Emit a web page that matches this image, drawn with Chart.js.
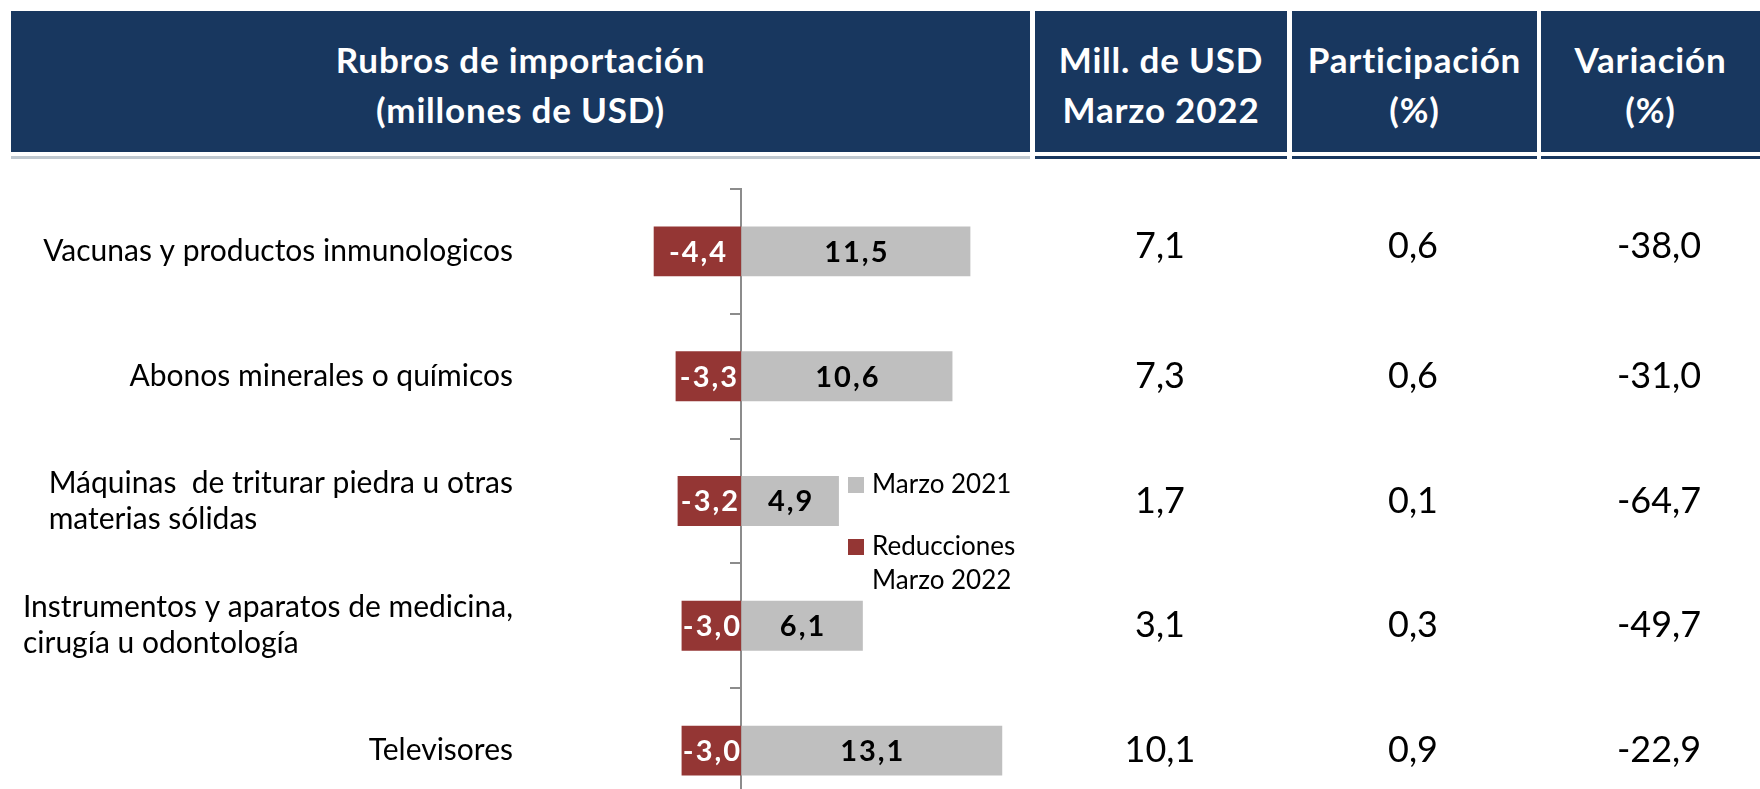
<!DOCTYPE html>
<html>
<head>
    <title>Rubros de importación</title>
    <script src="https://cdn.jsdelivr.net/npm/chart.js"></script>
    <style>
        html, body {
            margin: 0;
            padding: 0;
            width: 1760px;
            height: 789px;
            overflow: hidden;
            background: #fff;
            font-family: Lato, "Open Sans", sans-serif;
        }

        #chart-box {
            position: absolute;
            left: 0;
            top: 0;
            width: 1760px;
            height: 830px;
        }

        .head {
            position: absolute;
            top: 11px;
            height: 141px;
            background: #18375f;
            color: #fff;
            font-weight: bold;
            font-size: 35px;
            letter-spacing: 0.8px;
            line-height: 50px;
            text-align: center;
            box-sizing: border-box;
            padding-top: 23px;
        }

        .rule {
            position: absolute;
            top: 156px;
            height: 3px;
        }
    </style>
</head>
<body>
    <div class="head" style="left:11px;width:1019px;">Rubros de importación<br>(millones de USD)</div>
    <div class="head" style="left:1035px;width:252px;">Mill. de USD<br>Marzo 2022</div>
    <div class="head" style="left:1292px;width:245px;">Participación<br>(%)</div>
    <div class="head" style="left:1541px;width:219px;">Variación<br>(%)</div>

    <div class="rule" style="left:11px;width:1019px;background:#bfc8d0;"></div>
    <div class="rule" style="left:1035px;width:252px;background:#18375f;"></div>
    <div class="rule" style="left:1292px;width:245px;background:#18375f;"></div>
    <div class="rule" style="left:1541px;width:219px;background:#18375f;"></div>

    <div id="chart-box">
        <canvas id="rubrosChart" width="1760" height="830"></canvas>
    </div>

    <script>
        const categories = [
            ['Vacunas y productos inmunologicos'],
            ['Abonos minerales o químicos'],
            ['Máquinas  de triturar piedra u otras', 'materias sólidas'],
            ['Instrumentos y aparatos de medicina,', 'cirugía u odontología'],
            ['Televisores']
        ];
        const marzo2021 = [11.5, 10.6, 4.9, 6.1, 13.1];
        const reducciones = [-4.4, -3.3, -3.2, -3.0, -3.0];
        const millUsd2022 = [7.1, 7.3, 1.7, 3.1, 10.1];
        const participacion = [0.6, 0.6, 0.1, 0.3, 0.9];
        const variacion = [-38.0, -31.0, -64.7, -49.7, -22.9];

        const fmt = v => v.toFixed(1).replace('.', ',');

        // category names, right-aligned as a block, lines left-aligned
        const categoryLabels = {
            id: 'categoryLabels',
            afterDraw(chart) {
                const ctx = chart.ctx;
                const y = chart.scales.y;
                ctx.save();
                ctx.font = '30px Lato';
                ctx.fillStyle = '#000';
                ctx.textAlign = 'left';
                ctx.textBaseline = 'middle';
                categories.forEach((lines, i) => {
                    const cy = y.getPixelForValue(i);
                    const w = Math.max(...lines.map(l => ctx.measureText(l).width));
                    const x0 = 513 - w;
                    lines.forEach((l, k) => {
                        ctx.fillText(l, x0, cy + (k - (lines.length - 1) / 2) * 36);
                    });
                });
                ctx.restore();
            }
        };

        // table columns to the right of the bars
        const tableColumns = {
            id: 'tableColumns',
            afterDraw(chart) {
                const ctx = chart.ctx;
                const y = chart.scales.y;
                const cols = [
                    { x: 1160, values: millUsd2022 },
                    { x: 1413, values: participacion },
                    { x: 1659, values: variacion }
                ];
                ctx.save();
                ctx.font = '36px Lato';
                ctx.fillStyle = '#000';
                ctx.textAlign = 'center';
                ctx.textBaseline = 'middle';
                cols.forEach(c => {
                    c.values.forEach((v, i) => {
                        ctx.fillText(fmt(v), c.x, y.getPixelForValue(i) - (i === 0 ? 5 : 0));
                    });
                });
                ctx.restore();
            }
        };

        // value labels inside the bars
        const barLabels = {
            id: 'barLabels',
            afterDatasetsDraw(chart) {
                const ctx = chart.ctx;
                ctx.save();
                ctx.font = 'bold 29px Lato';
                ctx.letterSpacing = '2px';
                ctx.textAlign = 'center';
                ctx.textBaseline = 'middle';
                chart.data.datasets.forEach((ds, di) => {
                    ctx.fillStyle = di === 0 ? '#000' : '#fff';
                    chart.getDatasetMeta(di).data.forEach((bar, i) => {
                        ctx.fillText(fmt(ds.data[i]), (bar.x + bar.base) / 2 + 1, bar.y + 1);
                    });
                });
                ctx.restore();
            }
        };

        // legend sitting inside the plot
        const sideLegend = {
            id: 'sideLegend',
            afterDraw(chart) {
                const ctx = chart.ctx;
                const items = [
                    { color: chart.data.datasets[0].backgroundColor, lines: ['Marzo 2021'], y: 485 },
                    { color: chart.data.datasets[1].backgroundColor, lines: ['Reducciones', 'Marzo 2022'], y: 547 }
                ];
                ctx.save();
                ctx.font = '26px Lato';
                ctx.textAlign = 'left';
                ctx.textBaseline = 'middle';
                items.forEach(it => {
                    ctx.fillStyle = it.color;
                    ctx.fillRect(848, it.y - 8, 16, 16);
                    ctx.fillStyle = '#000';
                    it.lines.forEach((l, k) => ctx.fillText(l, 872, it.y + k * 34));
                });
                ctx.restore();
            }
        };

        new Chart(document.getElementById('rubrosChart'), {
            type: 'bar',
            data: {
                labels: categories,
                datasets: [{
                    label: 'Marzo 2021',
                    data: marzo2021,
                    backgroundColor: '#bfbfbf',
                    categoryPercentage: 0.4,
                    barPercentage: 1.0
                }, {
                    label: 'Reducciones Marzo 2022',
                    data: reducciones,
                    backgroundColor: '#943634',
                    categoryPercentage: 0.4,
                    barPercentage: 1.0
                }]
            },
            options: {
                indexAxis: 'y',
                responsive: false,
                animation: false,
                events: [],
                layout: {
                    padding: { left: 582, right: 700, top: 189, bottom: 17 }
                },
                plugins: {
                    legend: { display: false },
                    tooltip: { enabled: false }
                },
                scales: {
                    x: {
                        display: false,
                        stacked: true,
                        min: -8,
                        max: 16
                    },
                    y: {
                        stacked: true,
                        position: { x: 0 },
                        offset: true,
                        afterFit(scale) { scale.width = 0; },
                        ticks: { display: false },
                        grid: {
                            display: true,
                            offset: true,
                            drawOnChartArea: false,
                            tickLength: 10,
                            color: '#8c8c8c',
                            lineWidth: 2
                        },
                        border: { display: true, color: '#8c8c8c', width: 2 }
                    }
                }
            },
            plugins: [categoryLabels, tableColumns, barLabels, sideLegend]
        });
    </script>
</body>
</html>
